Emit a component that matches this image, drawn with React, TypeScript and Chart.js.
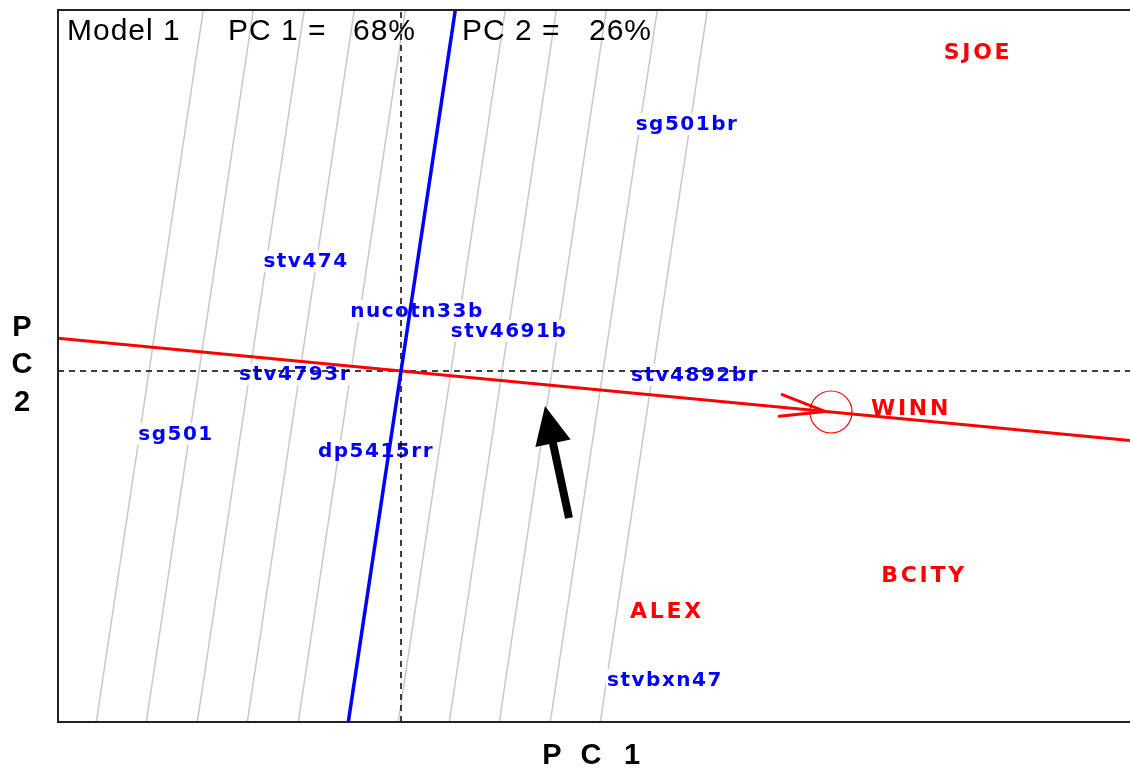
import React, { useEffect, useRef } from "react";
import { Chart, registerables } from "chart.js";

Chart.register(...registerables);

// ---- data (PC1 / PC2 scores) ----
const genotypes = ["sg501br", "stv474", "nucotn33b", "stv4691b", "stv4793r", "stv4892br", "sg501", "dp5415rr", "stvbxn47"];
const genotypePC1 = [2.86, -0.95, 0.16, 1.08, -1.06, 2.94, -2.25, -0.25, 2.64];
const genotypePC2 = [2.47, 1.10, 0.60, 0.40, -0.03, -0.04, -0.63, -0.80, -3.09];

const environments = ["SJOE", "WINN", "BCITY", "ALEX"];
const environmentPC1 = [5.77, 5.10, 5.23, 2.66];
const environmentPC2 = [3.19, -0.37, -2.04, -2.40];

const averageEnvPC1 = 4.30;
const averageEnvPC2 = -0.41;

const atcAbscissaX = [-3.43, 7.29];
const atcAbscissaY = [0.327, -0.695];
const atcOrdinateX = [-0.527, 0.543];
const atcOrdinateY = [-3.51, 3.61];
const parallelOffsets = [-2.52, -2.02, -1.51, -1.01, -0.5, 0.5, 1.01, 1.51, 2.02, 2.52];

const arrowTail = [1.68, -1.47];
const arrowTip = [1.44, -0.35];

const pc1Range = [-3.43, 7.29];
const pc2Range = [-3.51, 3.61];

const titleParts = ["Model 1", "PC 1 =", "68%", "PC 2 =", "26%"];
const xAxisTitle = ["P", "C", "1"];
const yAxisTitle = ["P", "C", "2"];

const BLUE = "#0000ff";
const RED = "#ff0000";
const DASHED_V_INDEX = 3;

function drawLabels(chart: any) {
  const { ctx, scales } = chart;
  const xs = scales.x;
  const ys = scales.y;
  ctx.save();
  ctx.textBaseline = "middle";
  ctx.textAlign = "left";
  const drawOne = (text: string, px: number, py: number, color: string, font: string, spacing: string) => {
    ctx.font = font;
    (ctx as any).letterSpacing = spacing;
    const w = ctx.measureText(text).width;
    ctx.fillStyle = "#ffffff";
    ctx.fillRect(px - w / 2 - 1, py - 11, w + 2, 22);
    ctx.fillStyle = color;
    ctx.fillText(text, px - w / 2, py + 1);
  };
  genotypes.forEach((g, i) => {
    drawOne(g, xs.getPixelForValue(genotypePC1[i]), ys.getPixelForValue(genotypePC2[i]), BLUE,
      "bold 20px 'DejaVu Sans'", "1.5px");
  });
  environments.forEach((e, i) => {
    drawOne(e, xs.getPixelForValue(environmentPC1[i]), ys.getPixelForValue(environmentPC2[i]), RED,
      "bold 22px 'DejaVu Sans'", "2.7px");
  });
  ctx.restore();
}

const biplotPlugin = {
  id: "biplot",
  beforeDatasetDraw(chart: any, args: any) {
    if (args.index === DASHED_V_INDEX) drawLabels(chart);
  },
  afterDatasetsDraw(chart: any) {
    const { ctx, scales, chartArea } = chart;
    const xs = scales.x;
    const ys = scales.y;
    ctx.save();
    // average environment circle and arrow head on the ATC abscissa
    const cx = xs.getPixelForValue(averageEnvPC1);
    const cy = ys.getPixelForValue(averageEnvPC2);
    ctx.strokeStyle = RED;
    ctx.lineWidth = 1.2;
    ctx.beginPath();
    ctx.arc(cx, cy, 21, 0, Math.PI * 2);
    ctx.stroke();
    const x0 = xs.getPixelForValue(atcAbscissaX[0]);
    const y0 = ys.getPixelForValue(atcAbscissaY[0]);
    const ang = Math.atan2(cy - y0, cx - x0);
    const tipX = cx - 6 * Math.cos(ang);
    const tipY = cy - 6 * Math.sin(ang);
    ctx.lineWidth = 3;
    ctx.lineCap = "round";
    [0.28, -0.2].forEach((a) => {
      ctx.beginPath();
      ctx.moveTo(tipX, tipY);
      ctx.lineTo(tipX - 46 * Math.cos(ang + a), tipY - 46 * Math.sin(ang + a));
      ctx.stroke();
    });
    // black arrow
    const ax = xs.getPixelForValue(arrowTail[0]);
    const ay = ys.getPixelForValue(arrowTail[1]);
    const bx = xs.getPixelForValue(arrowTip[0]);
    const by = ys.getPixelForValue(arrowTip[1]);
    const a2 = Math.atan2(by - ay, bx - ax);
    const headLen = 38;
    const hx = bx - headLen * Math.cos(a2);
    const hy = by - headLen * Math.sin(a2);
    ctx.strokeStyle = "#000";
    ctx.fillStyle = "#000";
    ctx.lineWidth = 8;
    ctx.lineCap = "butt";
    ctx.beginPath();
    ctx.moveTo(ax, ay);
    ctx.lineTo(hx + 2 * Math.cos(a2), hy + 2 * Math.sin(a2));
    ctx.stroke();
    const nx = -Math.sin(a2);
    const ny = Math.cos(a2);
    ctx.beginPath();
    ctx.moveTo(bx, by);
    ctx.lineTo(hx + 18 * nx, hy + 18 * ny);
    ctx.lineTo(hx - 18 * nx, hy - 18 * ny);
    ctx.closePath();
    ctx.fill();
    // frame (left, top, bottom)
    ctx.strokeStyle = "#222";
    ctx.lineWidth = 2;
    ctx.beginPath();
    ctx.moveTo(chart.width, chartArea.top);
    ctx.lineTo(chartArea.left, chartArea.top);
    ctx.lineTo(chartArea.left, chartArea.bottom);
    ctx.lineTo(chart.width, chartArea.bottom);
    ctx.stroke();
    ctx.restore();
  },
  afterDraw(chart: any) {
    const { ctx, chartArea } = chart;
    ctx.save();
    ctx.fillStyle = "#000";
    ctx.textBaseline = "alphabetic";
    ctx.textAlign = "left";
    ctx.font = "30px 'Liberation Sans'";
    (ctx as any).letterSpacing = "1px";
    const titleX = [9, 170, 295, 404, 531];
    titleParts.forEach((t, i) => ctx.fillText(t, chartArea.left + titleX[i], chartArea.top + 30));
    ctx.font = "bold 29px 'Liberation Sans'";
    (ctx as any).letterSpacing = "0px";
    ctx.textAlign = "center";
    ctx.textBaseline = "middle";
    const xt = [552, 591, 632];
    xAxisTitle.forEach((t, i) => ctx.fillText(t, xt[i], chartArea.bottom + 34));
    const yt = [328, 365, 403];
    yAxisTitle.forEach((t, i) => ctx.fillText(t, 22, yt[i]));
    ctx.restore();
  },
};

export default function App() {
  const ref = useRef<HTMLCanvasElement | null>(null);
  useEffect(() => {
    document.body.style.margin = "0";
    const canvas = ref.current;
    if (!canvas) return;
    const line = (xsArr: number[], ysArr: number[]) => xsArr.map((x, i) => ({ x, y: ysArr[i] }));
    const datasets: any[] = [
      { data: line(atcOrdinateX, atcOrdinateY), showLine: true, borderColor: BLUE, borderWidth: 3.5, pointRadius: 0 },
      { data: line(atcAbscissaX, atcAbscissaY), showLine: true, borderColor: RED, borderWidth: 3, pointRadius: 0 },
      { data: line(pc1Range, [0, 0]), showLine: true, borderColor: "#000", borderWidth: 1.5, borderDash: [6, 5], pointRadius: 0 },
      { data: line([0, 0], pc2Range), showLine: true, borderColor: "#000", borderWidth: 1.5, borderDash: [6, 5], pointRadius: 0 },
      ...parallelOffsets.map((o) => ({
        data: line(atcOrdinateX.map((x) => x + o), atcOrdinateY),
        showLine: true, borderColor: "#c8c8c8", borderWidth: 1.5, pointRadius: 0,
      })),
      { data: line(genotypePC1, genotypePC2), showLine: false, pointRadius: 0 },
      { data: line(environmentPC1, environmentPC2), showLine: false, pointRadius: 0 },
    ];
    const chart = new Chart(canvas, {
      type: "scatter",
      data: { datasets },
      options: {
        animation: false,
        responsive: false,
        maintainAspectRatio: false,
        devicePixelRatio: 1,
        layout: { padding: { left: 58, top: 10, right: 0, bottom: 50 } },
        scales: {
          x: { type: "linear", min: pc1Range[0], max: pc1Range[1], display: false },
          y: { type: "linear", min: pc2Range[0], max: pc2Range[1], display: false },
        },
        plugins: { legend: { display: false }, tooltip: { enabled: false }, title: { display: false } },
      },
      plugins: [biplotPlugin],
    });
    return () => chart.destroy();
  }, []);
  return (
    <div style={{ width: 1130, height: 772, background: "#fff" }}>
      <canvas ref={ref} width={1130} height={772} style={{ display: "block", width: 1130, height: 772 }} />
    </div>
  );
}
